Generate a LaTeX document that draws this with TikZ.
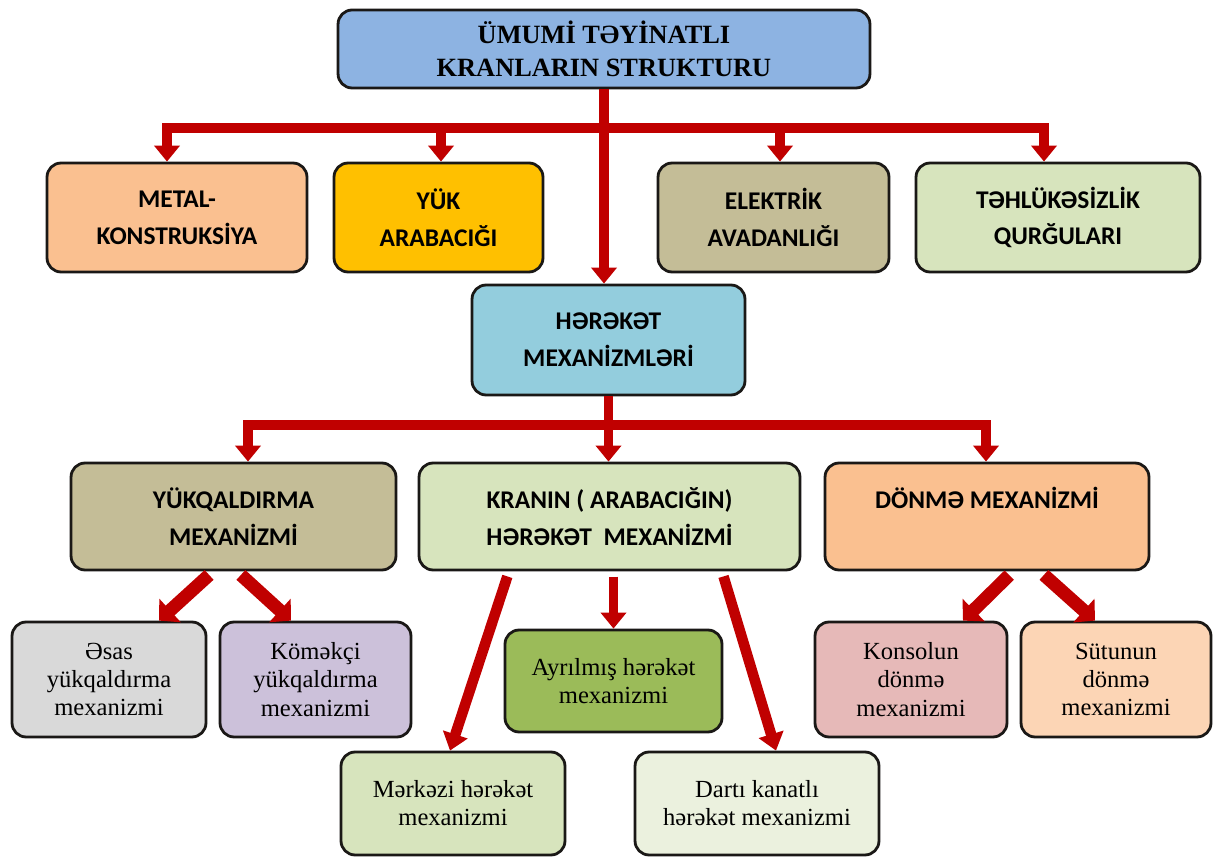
\documentclass[tikz,border=0pt]{standalone}
\usepackage{fontspec}
\setmainfont{Liberation Serif}
\newfontfamily\capfont{Carlito}
\usepackage{xcolor}
\usepackage{tikz}
\usetikzlibrary{arrows.meta,positioning}
\definecolor{boxline}{RGB}{26,24,22}
\definecolor{arrowred}{RGB}{192,0,0}
\definecolor{titleblue}{RGB}{141,179,226}
\definecolor{motionblue}{RGB}{147,205,221}
\definecolor{peach}{RGB}{250,192,144}
\definecolor{amber}{RGB}{255,192,0}
\definecolor{khaki}{RGB}{196,189,151}
\definecolor{olivelight}{RGB}{215,228,189}
\definecolor{olivepale}{RGB}{235,241,222}
\definecolor{olivegreen}{RGB}{155,187,89}
\definecolor{greylight}{RGB}{217,217,217}
\definecolor{lavender}{RGB}{204,193,218}
\definecolor{rosepink}{RGB}{230,185,184}
\definecolor{peachlight}{RGB}{252,213,181}

\begin{document}
\begin{tikzpicture}[
    x=0.02cm, y=-0.02cm,
    every node/.style={align=center, inner sep=0pt},
    basebox/.style={rectangle, rounded corners=8pt, draw=boxline, line width=1.6pt},
    titlebox/.style={basebox, font=\fontsize{15}{19}\selectfont\bfseries},
    capbox/.style={basebox, font=\capfont\bfseries\fontsize{14.5}{21}\selectfont},
    leafbox/.style={basebox, font=\fontsize{14}{16}\selectfont},
    bus/.style={line width=5.5pt, draw=arrowred, line cap=rect},
    arr/.style={-{Triangle[length=0.32cm, width=0.5cm]}, line width=5.5pt, draw=arrowred},
    fatarr/.style={-{Triangle[length=0.3cm, width=0.62cm]}, line width=7.5pt, draw=arrowred, shorten <=3pt},
    longarr/.style={-{Triangle[length=0.34cm, width=0.5cm]}, line width=6pt, draw=arrowred, shorten <=3pt}
]
\useasboundingbox (0,0) rectangle (1217,857);

% Row 1: Title
\node[titlebox, fill=titleblue, minimum width=10.64cm, minimum height=1.56cm] (title) at (604,49) {ÜMUMİ TƏYİNATLI\\KRANLARIN STRUKTURU};

% Row 2: Main parts
\node[capbox, fill=peach, minimum width=5.2cm, minimum height=2.18cm] (metal) at (177,217.5) {METAL-\\KONSTRUKSİYA};
\node[capbox, fill=amber, minimum width=4.18cm, minimum height=2.18cm] (trolley) at (438.5,217.5) {YÜK\\ARABACIĞI};
\node[capbox, fill=khaki, minimum width=4.62cm, minimum height=2.18cm] (electric) at (773.5,217.5) {ELEKTRİK\\AVADANLIĞI};
\node[capbox, fill=olivelight, minimum width=5.68cm, minimum height=2.18cm] (safety) at (1058,217.5) {TƏHLÜKƏSİZLİK\\QURĞULARI};
\node[capbox, fill=motionblue, minimum width=5.46cm, minimum height=2.2cm] (motion) at (608.5,340) {HƏRƏKƏT\\MEXANİZMLƏRİ};

% Row 3: Mechanisms
\node[capbox, fill=khaki, minimum width=6.5cm, minimum height=2.14cm] (hoist) at (233.5,516.5) {YÜKQALDIRMA\\MEXANİZMİ};
\node[capbox, fill=olivelight, minimum width=7.62cm, minimum height=2.14cm] (travel) at (609.5,516.5) {KRANIN ( ARABACIĞIN)\\HƏRƏKƏT\ \ MEXANİZMİ};
\node[capbox, fill=peach, minimum width=6.48cm, minimum height=2.14cm] (slew) at (987,516.5) {DÖNMƏ MEXANİZMİ\\\mbox{}};

% Row 4 and 5: Sub-mechanisms
\node[leafbox, fill=greylight, minimum width=3.88cm, minimum height=2.3cm] (mainhoist) at (109,679.5) {Əsas\\yükqaldırma\\mexanizmi};
\node[leafbox, fill=lavender, minimum width=3.82cm, minimum height=2.3cm] (auxhoist) at (315.5,679.5) {Köməkçi\\yükqaldırma\\mexanizmi};
\node[leafbox, fill=olivegreen, minimum width=4.34cm, minimum height=2.04cm] (separate) at (613.5,681) {Ayrılmış hərəkət\\mexanizmi};
\node[leafbox, fill=rosepink, minimum width=3.84cm, minimum height=2.3cm] (jib) at (911,679.5) {Konsolun\\dönmə\\mexanizmi};
\node[leafbox, fill=peachlight, minimum width=3.8cm, minimum height=2.3cm] (column) at (1116,679.5) {Sütunun\\dönmə\\mexanizmi};
\node[leafbox, fill=olivelight, minimum width=4.48cm, minimum height=2.06cm] (central) at (453,803.5) {Mərkəzi hərəkət\\mexanizmi};
\node[leafbox, fill=olivepale, minimum width=4.88cm, minimum height=2.06cm] (rope) at (757,803.5) {Dartı kanatlı\\hərəkət mexanizmi};

% Connections
\coordinate (busA) at (167,128);
\coordinate (busB) at (441,128);
\coordinate (busC) at (780,128);
\coordinate (busD) at (1044,128);
\draw[bus] (busA) -- (busD);
\draw[arr] (title.south) -- (title.south |- motion.north);
\draw[arr] (busA) -- (busA |- metal.north);
\draw[arr] (busB) -- (busB |- trolley.north);
\draw[arr] (busC) -- (busC |- electric.north);
\draw[arr] (busD) -- (busD |- safety.north);

\coordinate (midA) at (248,425);
\coordinate (midB) at (986,425);
\draw[bus] (midA) -- (midB);
\draw[arr] (motion.south) -- (motion.south |- travel.north);
\draw[arr] (midA) -- (midA |- hoist.north);
\draw[arr] (midB) -- (midB |- slew.north);

\draw[fatarr] ([xshift=-0.41cm]hoist.south) -- ([xshift=1.0cm]mainhoist.north);
\draw[fatarr] ([xshift=0.07cm]hoist.south) -- ([xshift=-0.49cm]auxhoist.north);
\draw[longarr] ([xshift=-2.01cm]travel.south) -- ([xshift=-0.06cm]central.north);
\draw[arr, shorten <=3pt] (separate.north |- travel.south) -- (separate.north);
\draw[longarr] ([xshift=2.25cm]travel.south) -- ([xshift=0.38cm]rope.north);
\draw[fatarr] ([xshift=0.52cm]slew.south) -- ([xshift=1.04cm]jib.north);
\draw[fatarr] ([xshift=1.06cm]slew.south) -- ([xshift=-0.42cm]column.north);

\end{tikzpicture}
\end{document}
